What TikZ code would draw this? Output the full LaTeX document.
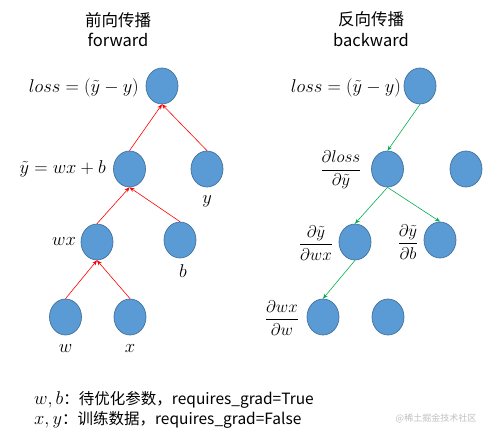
\RequirePackage{fix-cm}
\documentclass[tikz,border=0pt]{standalone}
\usepackage{amsmath}
\usepackage{fontspec}
\setmainfont{Noto Sans CJK SC}
\usetikzlibrary{shapes.geometric,arrows.meta}
\definecolor{nodefill}{HTML}{5B9BD5}
\definecolor{nodeline}{HTML}{41719C}
\definecolor{fwd}{HTML}{FF0000}
\definecolor{bwd}{HTML}{00B050}
\newcommand{\bigmath}[1]{{\fontsize{18.5}{18}\selectfont$#1$}}
\tikzset{
  ball/.style={ellipse, minimum width=32pt, minimum height=36pt, inner sep=0pt,
    fill=nodefill, draw=nodeline, line width=0.7pt},
  lbl/.style={inner sep=0pt, font=\fontsize{18.5}{22}\selectfont},
  frac/.style={inner sep=0pt, font=\fontsize{17}{20}\selectfont},
  ttl/.style={inner sep=0pt, font=\fontsize{16.5}{20}\selectfont},
  note/.style={inner sep=0pt, anchor=west, font=\fontsize{15.5}{18}\selectfont},
  fwdarr/.style={draw=fwd, line width=0.6pt, -{Stealth[length=5pt,width=4pt]}},
  bwdarr/.style={draw=bwd, line width=0.6pt, -{Stealth[length=5pt,width=4pt]}},
}
\begin{document}
\begin{tikzpicture}[x=1pt,y=-1pt]
\useasboundingbox (0,0) rectangle (495,436);
% titles
\node[ttl] (t1) at (118,20) {前向传播};
\node[ttl] (t2) at (118,40) {forward};
\node[ttl] (t3) at (371,19) {反向传播};
\node[ttl] (t4) at (371,40) {backward};
% left tree
\node[ball] (L0) at (162,86) {};
\node[ball] (L1) at (129.5,169) {};
\node[ball] (Ly) at (207,169) {};
\node[ball] (Lwx) at (97,242) {};
\node[ball] (Lb) at (180,240) {};
\node[ball] (Lw) at (65.5,317) {};
\node[ball] (Lx) at (130,317) {};
\node[lbl, anchor=east] (l0) at (139,88) {$loss=(\tilde{y}-y)$};
\node[lbl, anchor=east] (l1) at (106,169) {$\tilde{y}=wx+b$};
\node[lbl] (ly) at (207,201) {$y$};
\node[lbl] (lwx) at (64,242) {$wx$};
\node[lbl] (lb) at (183,271) {$b$};
\node[lbl] (lw) at (65.5,349) {$w$};
\node[lbl] (lx) at (130,349) {$x$};
\draw[fwdarr] (L1.north) -- (L0.south);
\draw[fwdarr] (Ly.north) -- (L0.south);
\draw[fwdarr] (Lwx.north) -- (L1.south);
\draw[fwdarr] (Lb.north) -- (L1.south);
\draw[fwdarr] (Lw.north) -- (Lwx.south);
\draw[fwdarr] (Lx.north) -- (Lwx.south);
% right tree
\node[ball] (R0) at (420,86) {};
\node[ball] (R1) at (387.5,169) {};
\node[ball] (Rr) at (466,169) {};
\node[ball] (Rwx) at (355,242) {};
\node[ball] (Rb) at (440,240) {};
\node[ball] (Rw) at (323,317) {};
\node[ball] (Rx) at (388,317) {};
\node[lbl, anchor=east] (r0) at (401,88) {$loss=(\tilde{y}-y)$};
\node[frac] (r1) at (341,170) {$\dfrac{\partial loss}{\partial\tilde{y}}$};
\node[frac] (rwx) at (316,243) {$\dfrac{\partial\tilde{y}}{\partial wx}$};
\node[frac] (rb) at (408,242) {$\dfrac{\partial\tilde{y}}{\partial b}$};
\node[frac] (rw) at (282,318) {$\dfrac{\partial wx}{\partial w}$};
\draw[bwdarr] (R0.south) -- (R1.north);
\draw[bwdarr] (R1.south) -- (Rwx.north);
\draw[bwdarr] (R1.south) -- (Rb.north);
\draw[bwdarr] (Rwx.south) -- (Rw.north);
% notes
\node[note] (n1) at (34,400) {\bigmath{w,b}：待优化参数，requires\_grad=True};
\node[note] (n2) at (34,420) {\bigmath{x,y}：训练数据，requires\_grad=False};
\node[inner sep=0pt, text=black!25, font=\fontsize{9}{10}\selectfont] (wm) at (436,418) {@稀土掘金技术社区};
\end{tikzpicture}
\end{document}
